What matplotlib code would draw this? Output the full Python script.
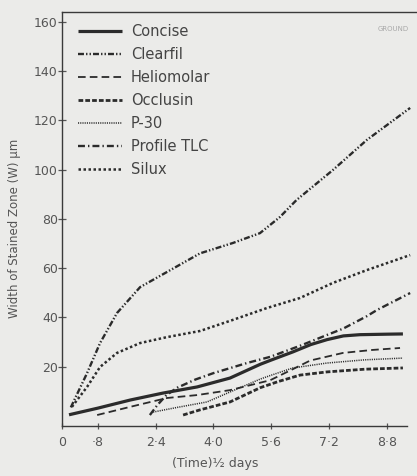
import numpy as np
import matplotlib
matplotlib.use("Agg")
import matplotlib.pyplot as plt

plt.rcParams['font.family'] = ['Liberation Sans Narrow', 'DejaVu Sans']
plt.rcParams['lines.scale_dashes'] = False

# values, x is (time)^1/2 in days
concise_x = [0.0, 0.8, 1.7, 2.6, 3.55, 4.46, 5.3, 5.6, 6.2, 6.7, 7.15, 7.6, 8.06, 8.8, 9.25]
concise_y = [0.5, 3.2, 6.5, 9.3, 11.8, 15.4, 21.0, 22.7, 26.0, 29.0, 31.0, 32.5, 33.0, 33.2, 33.3]

clearfil_x = [0.05, 0.5, 0.86, 1.33, 1.97, 2.71, 3.63, 4.54, 5.29, 5.84, 6.3, 7.31, 8.25, 9.45]
clearfil_y = [3.5, 17.4, 29.6, 41.8, 52.3, 58.4, 66.0, 70.2, 74.2, 80.7, 87.6, 99.8, 112.0, 125.0]

helio_x = [0.78, 1.69, 2.71, 3.55, 4.46, 5.57, 6.2, 6.68, 7.59, 8.4, 9.17]
helio_y = [0.4, 3.7, 7.3, 8.5, 10.5, 14.5, 19.0, 22.5, 25.6, 26.8, 27.6]

occlusin_x = [3.16, 3.63, 4.46, 5.3, 5.8, 6.4, 7.15, 8.2, 9.25]
occlusin_y = [0.4, 2.5, 5.7, 11.5, 14.0, 16.6, 17.9, 19.0, 19.5]

p30_x = [2.33, 3.0, 3.82, 4.5, 5.3, 5.57, 6.2, 7.15, 8.2, 9.25]
p30_y = [1.6, 3.5, 5.7, 10.0, 15.0, 16.4, 19.5, 21.5, 22.8, 23.5]

profile_x = [2.24, 2.45, 2.7, 3.0, 3.5, 4.0, 4.93, 5.57, 6.4, 7.15, 7.6, 8.25, 8.53, 9.45]
profile_y = [0.4, 4.5, 8.5, 11.5, 14.8, 17.4, 21.5, 24.0, 28.5, 32.9, 35.5, 40.5, 43.0, 49.9]

silux_x = [0.08, 0.5, 0.86, 1.33, 1.97, 2.71, 3.63, 4.54, 5.48, 6.4, 7.31, 8.25, 9.45]
silux_y = [3.7, 11.8, 19.9, 25.6, 29.6, 32.0, 34.5, 39.0, 43.8, 47.9, 54.0, 59.2, 65.3]

xticks = [0.8, 2.4, 4.0, 5.6, 7.2, 8.8]
xtick_labels = ['·8', '2·4', '4·0', '5·6', '7·2', '8·8']
yticks = [20, 40, 60, 80, 100, 120, 140, 160]

ink = '#2b2b2b'
paper = '#ebebe9'

fig = plt.figure(figsize=(4.17, 4.76), dpi=100, facecolor=paper)
ax = fig.add_axes([0.1487, 0.105, 0.8513, 0.8697])
ax.set_facecolor('none')

series = [
    (concise_x, concise_y, 'Concise', '-', 2.3),
    (clearfil_x, clearfil_y, 'Clearfil', (0, (4.3, 1.5, 1.0, 1.5, 1.0, 1.5)), 1.7),
    (helio_x, helio_y, 'Heliomolar', (0, (5.5, 3.0)), 1.3),
    (occlusin_x, occlusin_y, 'Occlusin', (0, (3.4, 1.5)), 2.0),
    (p30_x, p30_y, 'P-30', (0, (0.8, 0.8)), 1.1),
    (profile_x, profile_y, 'Profile TLC', (0, (5.0, 2.2, 1.0, 2.2)), 1.7),
    (silux_x, silux_y, 'Silux', (0, (1.8, 1.8)), 1.8),
]
for xs, ys, name, ls, lw in series:
    ax.plot(xs, ys, linestyle=ls, linewidth=lw, color=ink, label=name,
            clip_on=False, solid_capstyle='butt')

ax.set_xlim(-0.194, 9.64)
ax.set_ylim(-4.06, 163.9)

ax.spines['right'].set_visible(False)
ax.spines['bottom'].set_bounds(-0.194, 9.36)
for sp in ['left', 'bottom', 'top']:
    ax.spines[sp].set_color('#3a3a3a')
    ax.spines[sp].set_linewidth(1.0)

ax.set_xticks([-0.194] + xticks)
ax.set_xticklabels(['0'] + xtick_labels)
ax.set_yticks(yticks)
ax.tick_params(axis='x', direction='inout', length=4, width=0.9, pad=5,
               labelsize=9, colors='#555555')
ax.tick_params(axis='y', direction='inout', length=6, width=0.9, pad=0,
               labelsize=9, colors='#555555')

leg = ax.legend(loc='upper left', bbox_to_anchor=(0.03, 0.985), frameon=False,
                fontsize=10.5, handlelength=3.0, handletextpad=0.6,
                labelspacing=0.55, borderaxespad=0)
for t in leg.get_texts():
    t.set_color('#444444')

fig.text(15 / 417, 1 - 228 / 476, 'Width of Stained Zone (W) μm', rotation=90,
         ha='center', va='center', fontsize=8.5, color='#555555')
fig.text(215 / 417, 1 - 463 / 476, '(Time)½ days', ha='center', va='center',
         fontsize=9, color='#555555')
fig.text(393 / 417, 1 - 29 / 476, 'GROUND', ha='center', va='center',
         fontsize=5, color='#a8a8a8')

fig.savefig('out.png', dpi=100, facecolor=paper)
